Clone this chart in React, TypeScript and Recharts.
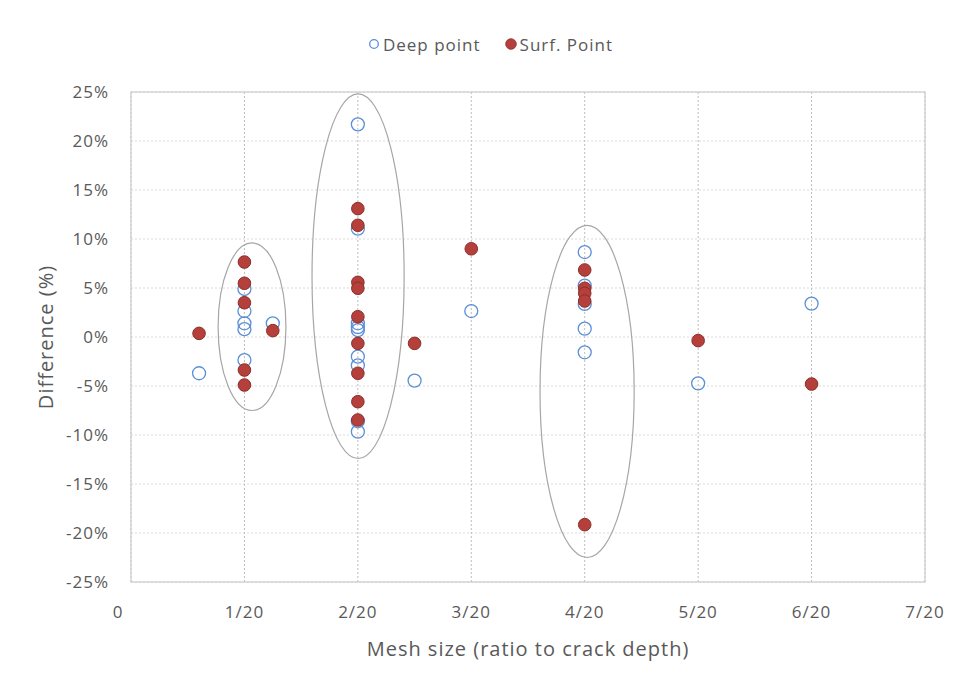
import React from "react";
import {
  ScatterChart,
  Scatter,
  XAxis,
  YAxis,
  CartesianGrid,
  ReferenceArea,
  Legend,
} from "recharts";

// Mesh size (fraction of crack depth) vs. difference in percent
const deepPoint = [
  { x: 0.03, y: -3.7 },
  { x: 0.05, y: 4.9 },
  { x: 0.05, y: 2.65 },
  { x: 0.05, y: 1.4 },
  { x: 0.05, y: 0.8 },
  { x: 0.05, y: -2.35 },
  { x: 0.0625, y: 1.4 },
  { x: 0.1, y: 21.7 },
  { x: 0.1, y: 11.05 },
  { x: 0.1, y: 1.4 },
  { x: 0.1, y: 1.0 },
  { x: 0.1, y: 0.7 },
  { x: 0.1, y: -2.0 },
  { x: 0.1, y: -2.9 },
  { x: 0.1, y: -8.6 },
  { x: 0.1, y: -9.66 },
  { x: 0.125, y: -4.45 },
  { x: 0.15, y: 2.65 },
  { x: 0.2, y: 8.67 },
  { x: 0.2, y: 5.24 },
  { x: 0.2, y: 3.37 },
  { x: 0.2, y: 0.85 },
  { x: 0.2, y: -1.56 },
  { x: 0.25, y: -4.73 },
  { x: 0.3, y: 3.4 },
];

const surfPoint = [
  { x: 0.03, y: 0.37 },
  { x: 0.05, y: 7.65 },
  { x: 0.05, y: 5.48 },
  { x: 0.05, y: 3.5 },
  { x: 0.05, y: -3.37 },
  { x: 0.05, y: -4.9 },
  { x: 0.0625, y: 0.65 },
  { x: 0.1, y: 13.1 },
  { x: 0.1, y: 11.4 },
  { x: 0.1, y: 5.58 },
  { x: 0.1, y: 4.97 },
  { x: 0.1, y: 2.07 },
  { x: 0.1, y: -0.65 },
  { x: 0.1, y: -3.7 },
  { x: 0.1, y: -6.6 },
  { x: 0.1, y: -8.47 },
  { x: 0.125, y: -0.65 },
  { x: 0.15, y: 9.0 },
  { x: 0.2, y: 6.84 },
  { x: 0.2, y: 4.97 },
  { x: 0.2, y: 4.46 },
  { x: 0.2, y: 3.67 },
  { x: 0.2, y: -19.15 },
  { x: 0.25, y: -0.37 },
  { x: 0.3, y: -4.8 },
];

const xTicks = [0, 0.05, 0.1, 0.15, 0.2, 0.25, 0.3, 0.35];
const xTickLabels = ["0", "1/20", "2/20", "3/20", "4/20", "5/20", "6/20", "7/20"];
const yTicks = [-25, -20, -15, -10, -5, 0, 5, 10, 15, 20, 25];

// hand-drawn groupings around the 1/20, 2/20 and 4/20 clusters
const clusters = [
  { x1: 0.0384, x2: 0.0683, y1: -7.5, y2: 9.6 },
  { x1: 0.0798, x2: 0.1204, y1: -12.4, y2: 24.8 },
  { x1: 0.1803, x2: 0.2218, y1: -22.5, y2: 11.4 },
];

const FONT = "'Open Sans', sans-serif";
const TEXT = "#595959";
const BLUE = "#5b8fd6";
const RED = "#b5403b";

const ellipseShape = (p: any) => (
  <ellipse
    cx={p.x + p.width / 2}
    cy={p.y + p.height / 2}
    rx={p.width / 2}
    ry={p.height / 2}
    fill="none"
    stroke="#a6a6a6"
    strokeWidth={1.2}
  />
);

const frameShape = (p: any) => (
  <rect x={p.x} y={p.y} width={p.width} height={p.height} fill="none" stroke="#d0d0d0" strokeWidth={1.3} />
);

const OpenDot = (p: any) => (
  <circle cx={p.cx} cy={p.cy} r={6.5} fill="none" stroke={BLUE} strokeWidth={1.3} />
);

const FilledDot = (p: any) => (
  <circle cx={p.cx} cy={p.cy} r={6.3} fill={RED} stroke="#8a2f2b" strokeWidth={1} />
);

const XTick = (p: any) => {
  const shift = p.index === 0 ? -13 : 0;
  return (
    <text
      x={p.x + shift}
      y={p.y}
      dy="0.71em"
      textAnchor="middle"
      fill={TEXT}
      fontSize={17}
      letterSpacing={1}
      fontFamily={FONT}
    >
      {xTickLabels[p.index]}
    </text>
  );
};

const XTitle = ({ viewBox }: any) => (
  <text
    x={viewBox.x + viewBox.width / 2}
    y={viewBox.y + 66}
    textAnchor="middle"
    dominantBaseline="central"
    fill={TEXT}
    fontSize={20}
    letterSpacing={1}
    fontFamily={FONT}
  >
    Mesh size (ratio to crack depth)
  </text>
);

const YTitle = ({ viewBox }: any) => {
  const cx = viewBox.x + 45;
  const cy = viewBox.y + viewBox.height / 2;
  return (
    <text
      x={cx}
      y={cy}
      transform={`rotate(-90 ${cx} ${cy})`}
      textAnchor="middle"
      dominantBaseline="central"
      fill={TEXT}
      fontSize={20}
      letterSpacing={1}
      fontFamily={FONT}
    >
      Difference (%)
    </text>
  );
};

const LegendContent = () => (
  <div
    style={{
      display: "flex",
      justifyContent: "center",
      alignItems: "center",
      gap: 24,
      paddingLeft: 20,
      height: 24,
      fontFamily: FONT,
      fontSize: 17,
      letterSpacing: 1,
      color: TEXT,
    }}
  >
    <span style={{ display: "flex", alignItems: "center", gap: 3 }}>
      <svg width={12} height={12}>
        <circle cx={6} cy={6} r={4.3} fill="none" stroke={BLUE} strokeWidth={1.3} />
      </svg>
      Deep point
    </span>
    <span style={{ display: "flex", alignItems: "center", gap: 3 }}>
      <svg width={12} height={12}>
        <circle cx={6} cy={6} r={5.3} fill={RED} stroke="#8a2f2b" strokeWidth={0.8} />
      </svg>
      Surf. Point
    </span>
  </div>
);

export default function App() {
  return (
    <div style={{ position: "absolute", left: 0, top: 0, background: "#fff" }}>
      <ScatterChart width={961} height={682} margin={{ top: 68, right: 36, bottom: 0, left: 0 }}>
        <CartesianGrid horizontal vertical={false} stroke="#d9d9d9" strokeDasharray="2 2" />
        <CartesianGrid horizontal={false} vertical stroke="#bdbdbd" strokeDasharray="2 2" />
        <XAxis
          type="number"
          dataKey="x"
          domain={[0, 0.35]}
          ticks={xTicks}
          interval={0}
          axisLine={false}
          tickLine={false}
          tickSize={0}
          tickMargin={24}
          height={100}
          tick={<XTick />}
          label={<XTitle />}
        />
        <YAxis
          type="number"
          dataKey="y"
          domain={[-25, 25]}
          ticks={yTicks}
          interval={0}
          width={131}
          axisLine={false}
          tickLine={false}
          tickSize={0}
          tickMargin={22}
          tickFormatter={(v: number) => `${v}%`}
          tick={{ fill: TEXT, fontSize: 17, fontFamily: FONT, letterSpacing: 1 }}
          label={<YTitle />}
        />
        <ReferenceArea x1={0} x2={0.35} y1={-25} y2={25} shape={frameShape} />
        {clusters.map((c, i) => (
          <ReferenceArea key={i} x1={c.x1} x2={c.x2} y1={c.y1} y2={c.y2} shape={ellipseShape} />
        ))}
        <Legend verticalAlign="top" content={<LegendContent />} wrapperStyle={{ top: 32, left: 0, width: 961 }} />
        <Scatter name="Deep point" data={deepPoint} shape={OpenDot} isAnimationActive={false} />
        <Scatter name="Surf. Point" data={surfPoint} shape={FilledDot} isAnimationActive={false} />
      </ScatterChart>
    </div>
  );
}
